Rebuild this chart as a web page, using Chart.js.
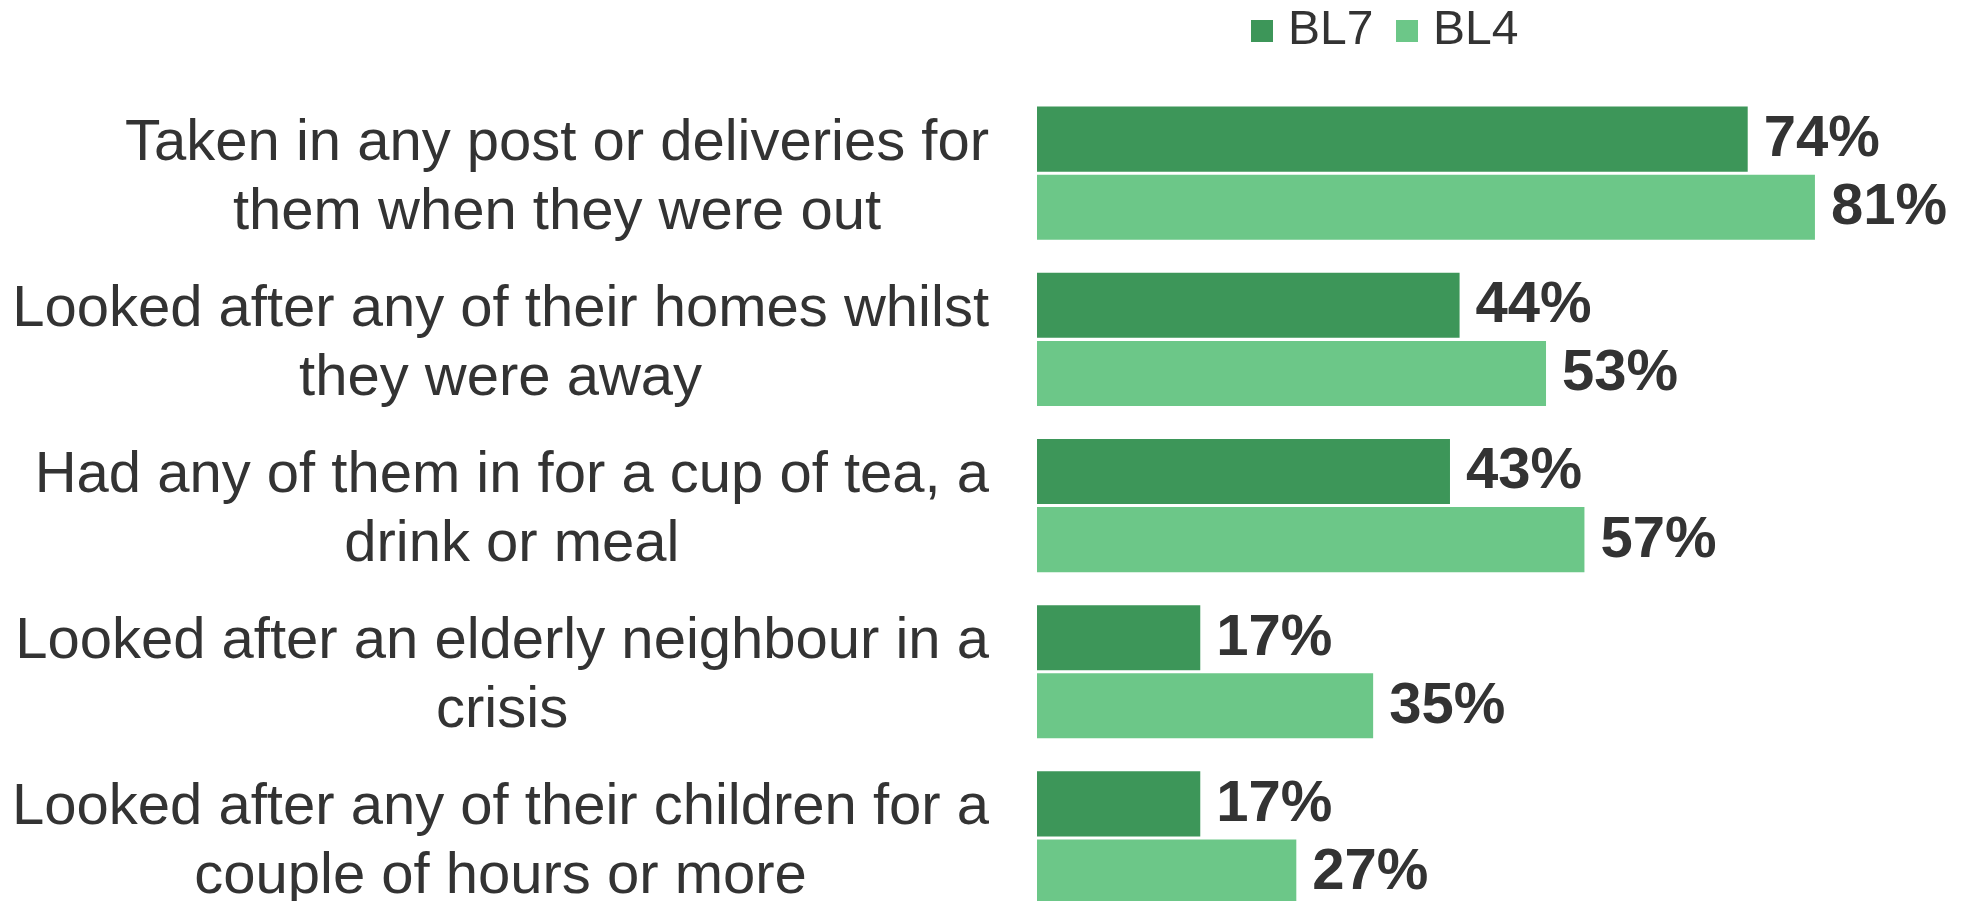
<!DOCTYPE html>
<html>
<head>
<meta charset="utf-8">
<script src="https://cdn.jsdelivr.net/npm/chart.js@4/dist/chart.umd.min.js"></script>
<style>
  html, body { margin: 0; padding: 0; background: #fff; overflow: hidden; }
  #wrap { position: absolute; left: 0; top: 0; width: 1966px; height: 930px; }
</style>
</head>
<body>
<div id="wrap"><canvas id="chart"></canvas></div>
<script>
/* ========== DATA ========== */
const categories = [
  ["Taken in any post or deliveries for", "them when they were out"],
  ["Looked after any of their homes whilst", "they were away"],
  ["Had any of them in for a cup of tea, a", "drink or meal"],
  ["Looked after an elderly neighbour in a", "crisis"],
  ["Looked after any of their children for a", "couple of hours or more"],
];
const seriesNames = ["BL7", "BL4"];
const bl7Values = [74, 44, 43, 17, 17];
const bl4Values = [81, 53, 57, 35, 27];

/* ========== STYLE ========== */
const FONT = '"Liberation Sans", Arial, sans-serif';
const TEXT_COLOR = "#333333";
const DARK_GREEN = "#3d9659";
const LIGHT_GREEN = "#6cc788";
const LABEL_SIZE = 58;
const LABEL_LINE = 69;
const LEGEND_PAD = 31.6;

// category labels: widest line right-aligned, other lines centred on it
const categoryLabels = {
  id: "categoryLabels",
  afterDraw(chart) {
    const { ctx, chartArea } = chart;
    const y = chart.scales.y;
    const right = chartArea.left - 48;
    ctx.save();
    ctx.font = `${LABEL_SIZE}px ${FONT}`;
    ctx.fillStyle = TEXT_COLOR;
    ctx.textAlign = "center";
    ctx.textBaseline = "alphabetic";
    categories.forEach((lines, i) => {
      const widest = Math.max(...lines.map((l) => ctx.measureText(l).width));
      const cx = right - widest / 2;
      const cy = y.getPixelForValue(i);
      lines.forEach((line, j) => {
        const ly = cy + (j - (lines.length - 1) / 2) * LABEL_LINE + 21;
        ctx.fillText(line, cx, ly);
      });
    });
    ctx.restore();
  },
};

// value labels at the end of each bar
const valueLabels = {
  id: "valueLabels",
  afterDatasetsDraw(chart) {
    const { ctx } = chart;
    ctx.save();
    ctx.font = `bold ${LABEL_SIZE}px ${FONT}`;
    ctx.fillStyle = TEXT_COLOR;
    ctx.textAlign = "left";
    ctx.textBaseline = "middle";
    chart.data.datasets.forEach((ds, di) => {
      const meta = chart.getDatasetMeta(di);
      meta.data.forEach((bar, i) => {
        ctx.fillText(`${ds.data[i]}%`, bar.x + 16, bar.y + 1);
      });
    });
    ctx.restore();
  },
};

// legend sits above the bars, not centred on the page
const legendPlace = {
  id: "legendPlace",
  afterLayout(chart) {
    const lg = chart.legend;
    if (!lg) return;
    const h = lg.height;
    lg.left = 1260 - LEGEND_PAD;
    lg.top = 7 - LEGEND_PAD;
    lg.bottom = lg.top + h;
  },
};

new Chart(document.getElementById("chart"), {
  type: "bar",
  data: {
    labels: categories,
    datasets: [
      { label: seriesNames[0], data: bl7Values, backgroundColor: DARK_GREEN },
      { label: seriesNames[1], data: bl4Values, backgroundColor: LIGHT_GREEN },
    ],
  },
  options: {
    indexAxis: "y",
    responsive: true,
    maintainAspectRatio: false,
    animation: false,
    categoryPercentage: 0.82,
    barPercentage: 0.955,
    layout: { padding: { top: 0.5, right: 7, bottom: 9, left: 0 } },
    plugins: {
      legend: {
        position: "top",
        align: "start",
        labels: {
          usePointStyle: true,
          pointStyle: "rect",
          boxWidth: 4,
          boxHeight: 22,
          padding: LEGEND_PAD,
          color: TEXT_COLOR,
          font: { family: FONT, size: 48 },
        },
      },
      tooltip: { enabled: false },
    },
    scales: {
      x: { display: false, min: 0, max: 96 },
      y: {
        ticks: { display: false },
        grid: { display: false },
        border: { display: false },
        afterFit: (s) => { s.width = 1037; },
      },
    },
  },
  plugins: [categoryLabels, valueLabels, legendPlace],
});
</script>
</body>
</html>
